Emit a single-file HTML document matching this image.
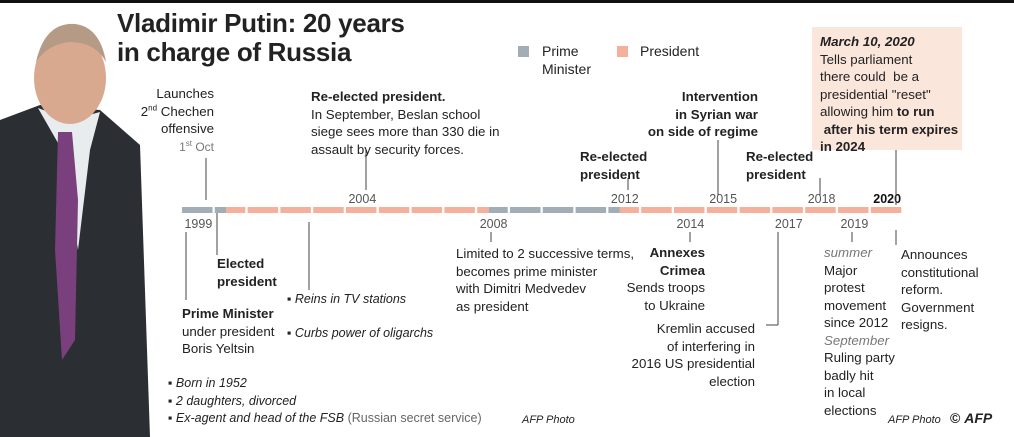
<!DOCTYPE html>
<html><head><meta charset="utf-8">
<style>
*{margin:0;padding:0;box-sizing:border-box}
body{width:1014px;height:437px;background:#fff;position:relative;overflow:hidden;font-family:"Liberation Sans Narrow","Liberation Sans",sans-serif;color:#222;font-size:13.3px;line-height:17.5px}
.t{position:absolute;white-space:nowrap}
.r{text-align:right}
.b{font-weight:bold}
.i{font-style:italic}
.g{color:#777}
sup{font-size:8px;line-height:0}
</style></head><body>
<div style="position:absolute;left:0;top:0;width:1014px;height:3px;background:#111"></div>

<svg width="160" height="437" style="position:absolute;left:0;top:0">
  <path d="M0 120 L40 105 L100 110 L140 145 L150 437 L0 437Z" fill="#2b2e33"/>
  <path d="M38 108 L62 150 L78 250 L90 150 L100 112 L70 120Z" fill="#e8ecef"/>
  <path d="M58 132 L72 132 L78 200 L75 340 L62 360 L55 250Z" fill="#7a3f7d"/>
  <ellipse cx="70" cy="78" rx="36" ry="46" fill="#d9a98f"/>
  <path d="M36 62 Q45 22 75 24 Q100 27 106 62 Q95 42 70 42 Q48 44 36 62Z" fill="#b59a86"/>
</svg>

<div class="t b" style="left:117px;top:9px;font-size:26px;line-height:29px;font-family:'Liberation Sans',sans-serif;letter-spacing:-0.3px">Vladimir Putin: 20 years<br>in charge of Russia</div>

<div style="position:absolute;left:518px;top:46px;width:11px;height:11px;background:#a3adb6"></div>
<div class="t" style="left:542px;top:43px;font-size:14px">Prime<br>Minister</div>
<div style="position:absolute;left:617px;top:46px;width:11px;height:11px;background:#f4b09a"></div>
<div class="t" style="left:640px;top:43px;font-size:14px">President</div>

<div style="position:absolute;left:812px;top:27px;width:150px;height:123px;background:#fbe6dc"></div>
<div class="t" style="left:820px;top:33px"><span class="i b">March 10, 2020</span><br>Tells parliament<br>there could&nbsp; be a<br>presidential "reset"<br>allowing him <b>to run<br>&nbsp;after his term expires<br>in 2024</b></div>

<svg id="tl" width="1014" height="437" style="position:absolute;left:0;top:0"></svg>

<div class="t r" style="left:110px;width:104px;top:85px">Launches<br>2<sup>nd</sup> Chechen<br>offensive<br><span class="g" style="font-size:12px">1<sup>st</sup> Oct</span></div>
<div class="t" style="left:311px;top:88px"><b>Re-elected president.</b><br>In September, Beslan school<br>siege sees more than 330 die in<br>assault by security forces.</div>
<div class="t b r" style="left:640px;width:118px;top:88px">Intervention<br>in Syrian war<br>on side of regime</div>
<div class="t b" style="left:580px;top:148px">Re-elected<br>president</div>
<div class="t b" style="left:746px;top:148px">Re-elected<br>president</div>

<div class="t" style="left:182px;top:305px"><b>Prime Minister</b><br>under president<br>Boris Yeltsin</div>
<div class="t b" style="left:217px;top:255px">Elected<br>president</div>
<div class="t i" style="left:287px;top:291px;font-size:12.5px">▪ Reins in TV stations</div>
<div class="t i" style="left:287px;top:325px;font-size:12.5px">▪ Curbs power of oligarchs</div>
<div class="t" style="left:456px;top:245px">Limited to 2 successive terms,<br>becomes prime minister<br>with Dimitri Medvedev<br>as president</div>
<div class="t r" style="left:620px;width:85px;top:244px"><b>Annexes<br>Crimea</b><br>Sends troops<br>to Ukraine</div>
<div class="t r" style="left:620px;width:135px;top:320px">Kremlin accused<br>of interfering in<br>2016 US presidential<br>election</div>
<div class="t" style="left:824px;top:244px"><span class="i g">summer</span><br>Major<br>protest<br>movement<br>since 2012<br><span class="i g">September</span><br>Ruling party<br>badly hit<br>in local<br>elections</div>
<div class="t" style="left:901px;top:246px">Announces<br>constitutional<br>reform.<br>Government<br>resigns.</div>

<div class="t i" style="left:168px;top:375px;font-size:12.5px">▪ Born in 1952<br>▪ 2 daughters, divorced<br>▪ Ex-agent and head of the FSB <span style="font-style:normal;color:#666">(Russian secret service)</span></div>
<div class="t i" style="left:522px;top:412px;font-size:11px">AFP Photo</div>
<div class="t i" style="left:888px;top:412px;font-size:11px">AFP Photo</div>
<div class="t b" style="left:950px;top:410px;font-size:14px">© <span style="font-style:italic">AFP</span></div>

<script>
const years = [1999,2000,2001,2002,2003,2004,2005,2006,2007,2008,2009,2010,2011,2012,2013,2014,2015,2016,2017,2018,2019,2020];
const periodStarts = [1999.0, 2000.35, 2008.35, 2012.35];
const periodEnds = [2000.35, 2008.35, 2012.35, 2021.0];
const periodRoles = ['PM','P','PM','P'];
const labelsAbove = [2004,2012,2015,2018,2020];
const labelsBelow = [1999,2008,2014,2017,2019];

const svg = document.getElementById('tl');
const NS = 'http://www.w3.org/2000/svg';
const x0 = 182, yw = 32.8, barY = 207, barH = 6;
const xs = v => x0 + (v - 1999) * yw;
const colors = {PM:'#a3adb6', P:'#f4b09a'};

years.forEach(y => {
  const s = y, e = y + 30.5/yw;
  for (let k = 0; k < periodStarts.length; k++) {
    const a = Math.max(s, periodStarts[k]), b = Math.min(e, periodEnds[k]);
    if (b > a) {
      const r = document.createElementNS(NS,'rect');
      
      
      r.setAttribute('x', xs(a)); r.setAttribute('y', barY);
      r.setAttribute('width', xs(b) - xs(a)); r.setAttribute('height', barH);
      r.setAttribute('fill', colors[periodRoles[k]]);
      svg.appendChild(r);
    }
  }
});
function yearLabel(y, above){
  const t = document.createElementNS(NS,'text');
  
  
  t.setAttribute('x', xs(y + 0.5)); t.setAttribute('y', above ? 203 : 228);
  t.setAttribute('text-anchor','middle');
  t.setAttribute('font-family','Liberation Sans Narrow, Liberation Sans, sans-serif');
  t.setAttribute('font-size','12.5');
  t.setAttribute('fill', y===2020 ? '#111' : '#555');
  if (y===2020) t.setAttribute('font-weight','bold');
  t.textContent = y;
  svg.appendChild(t);
}
labelsAbove.forEach(y => yearLabel(y, true));
labelsBelow.forEach(y => yearLabel(y, false));

const leaders = [[206,158,200],[366,150,190],[628,178,190],[718,140,195],[820,178,195],[896,150,205],
  [186,232,300],[217,213,255],[309,222,290],[491,232,242],[690,232,242],[778,232,325],[852,232,242],[896,230,245]];
leaders.forEach(l => {
  const ln = document.createElementNS(NS,'line');
  
  
  ln.setAttribute('x1', l[0]); ln.setAttribute('x2', l[0]);
  ln.setAttribute('y1', l[1]); ln.setAttribute('y2', l[2]);
  ln.setAttribute('stroke','#444'); ln.setAttribute('stroke-width','1');
  svg.appendChild(ln);
});
const h = document.createElementNS(NS,'polyline');


h.setAttribute('points','778,325 766,325');
h.setAttribute('stroke','#444'); h.setAttribute('fill','none');
svg.appendChild(h);
</script>
</body></html>
